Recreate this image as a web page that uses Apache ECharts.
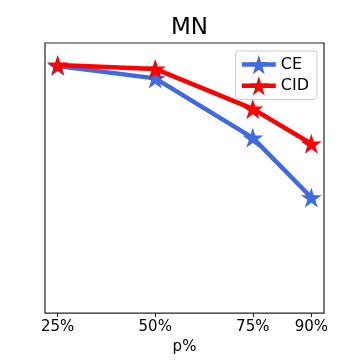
<!DOCTYPE html>
<html><head><meta charset="utf-8">
<script src="https://cdn.jsdelivr.net/npm/echarts@6/dist/echarts.min.js"></script>
<style>html,body{margin:0;padding:0;background:#fff}#c{width:360px;height:360px}</style>
</head><body><div id="c"></div>
<script>
const xValues = [25, 50, 75, 90];
const tickValues = [25, 50, 75, 90];
const ceValues = [91.5, 86.9, 64.9, 42.8];
const cidValues = [91.9, 90.4, 75.6, 62.7];
const STAR = 'path://M100,0 L122.45,69.1 L195.1,69.1 L136.3,111.8 L158.8,180.9 L100,138.2 L41.2,180.9 L63.7,111.8 L4.9,69.1 L77.55,69.1 Z';
const font = 'DejaVu Sans';
const chart = echarts.init(document.getElementById('c'), null, {renderer: 'canvas'});
chart.setOption({
  animation: false,
  backgroundColor: '#fff',
  title: {text: 'MN', left: 166, top: 12,
    textStyle: {fontFamily: font, fontSize: 23, fontWeight: 'normal', color: '#000'}},
  grid: {left: 45, right: 36, top: 43, bottom: 46, show: true, borderColor: '#222', borderWidth: 1.2, backgroundColor: 'transparent'},
  legend: {
    orient: 'vertical', right: 43, top: 51,
    itemWidth: 34, itemHeight: 24, itemGap: 2,
    padding: [4, 8, 4, 4],
    borderColor: '#ccc', borderWidth: 1, borderRadius: 3,
    backgroundColor: 'rgba(255,255,255,0.8)',
    lineStyle: {width: 4.5},
    textStyle: {fontFamily: font, fontSize: 16, color: '#000'},
    data: ['CE', 'CID']
  },
  xAxis: {
    type: 'value', min: 21.75, max: 93.25,
    name: 'p%', nameLocation: 'middle', nameGap: 26,
    nameTextStyle: {fontFamily: font, fontSize: 15, color: '#000'},
    axisLine: {show: false},
    splitLine: {show: false},
    axisTick: {show: true, length: 4, customValues: tickValues, lineStyle: {color: '#222'}},
    axisLabel: {customValues: tickValues, formatter: v => v + '%', fontFamily: font, fontSize: 15, color: '#000', margin: 7}
  },
  yAxis: {
    type: 'value', min: 0, max: 100,
    axisLine: {show: false}, axisTick: {show: false}, axisLabel: {show: false}, splitLine: {show: false}
  },
  series: [
    {name: 'CE', type: 'line', data: xValues.map((x, i) => [x, ceValues[i]]),
      symbol: STAR, symbolSize: [21, 20], color: '#4169E1',
      lineStyle: {width: 4.5, color: '#4169E1'}, itemStyle: {color: '#4169E1'}, z: 2},
    {name: 'CID', type: 'line', data: xValues.map((x, i) => [x, cidValues[i]]),
      symbol: STAR, symbolSize: [21, 20], color: '#FF0000',
      lineStyle: {width: 4.5, color: '#FF0000'}, itemStyle: {color: '#FF0000'}, z: 3}
  ]
});
</script></body></html>
